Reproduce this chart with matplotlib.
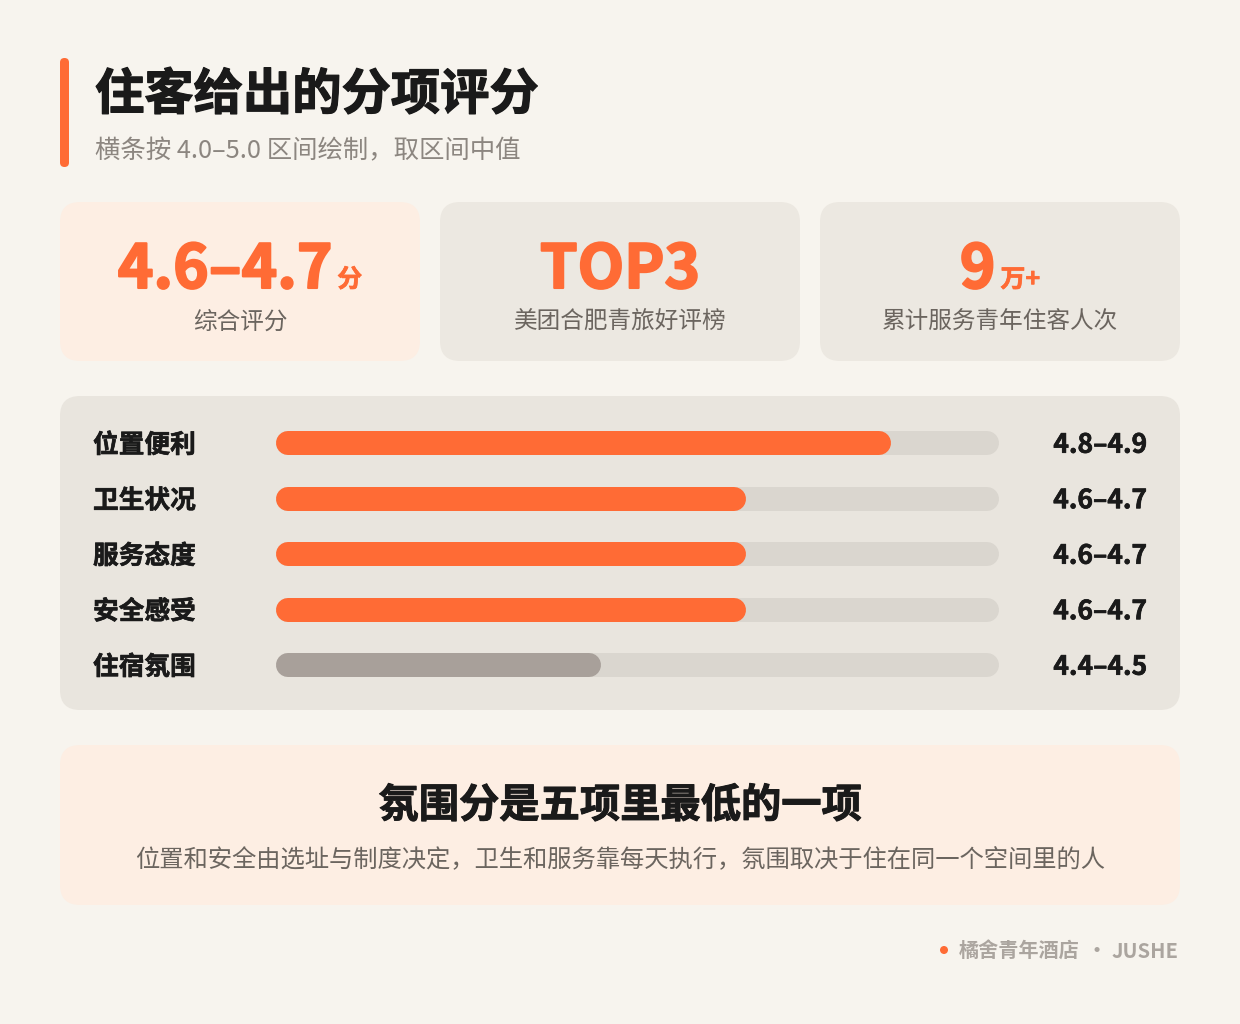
import matplotlib
matplotlib.use('Agg')
import matplotlib.pyplot as plt
import matplotlib.patheffects as pe
from matplotlib.patches import FancyBboxPatch, Circle
from matplotlib.transforms import blended_transform_factory

plt.rcParams['font.family'] = ['Noto Sans CJK SC', 'DejaVu Sans']

# data
categories = ['位置便利', '卫生状况', '服务态度', '安全感受', '住宿氛围']
range_labels = ['4.8–4.9', '4.6–4.7', '4.6–4.7', '4.6–4.7', '4.4–4.5']
midpoints = [4.85, 4.65, 4.65, 4.65, 4.45]
lowest = '住宿氛围'
card_values = ['4.6–4.7', 'TOP3', '9']
card_units = ['分', '', '万+']
card_labels = ['综合评分', '美团合肥青旅好评榜', '累计服务青年住客人次']

ORANGE = '#FF6B35'
PAGE = '#F7F4EE'
PEACH = '#FDEEE3'
CARD = '#ECE8E1'
PANEL = '#E9E5DE'
TRACK = '#DAD6CF'
GRAYBAR = '#A8A09A'
DARK = '#1A1A1A'
MUTED = '#6B655F'


def heavy(color, w):
    # the Black weight is not installed, so thicken Bold with a stroke
    return [pe.withStroke(linewidth=w, foreground=color)]


fig = plt.figure(figsize=(12.4, 10.24), dpi=100)
fig.patch.set_facecolor(PAGE)
bg = fig.add_axes([0, 0, 1, 1])
bg.set_xlim(0, 1240)
bg.set_ylim(1024, 0)
bg.axis('off')


def rbox(x0, y0, x1, y1, color, r=20):
    bg.add_patch(FancyBboxPatch((x0 + r, y0 + r), x1 - x0 - 2 * r, y1 - y0 - 2 * r,
                                boxstyle=f'round,pad={r}', fc=color, ec='none'))


# header
rbox(60, 58, 69, 167, ORANGE, r=4.5)
bg.text(95, 95, '住客给出的分项评分', fontsize=35.5, fontweight='bold', color=DARK,
        va='center', ha='left', path_effects=heavy(DARK, 0.9))
bg.text(95, 151, '横条按 4.0–5.0 区间绘制，取区间中值', fontsize=18.3, color='#8C8680',
        va='center', ha='left')

# stat cards
card_x = [60, 440, 820]
card_bg = [PEACH, CARD, CARD]
r = fig.canvas.get_renderer()
for i in range(3):
    x0 = card_x[i]
    rbox(x0, 202, x0 + 360, 361, card_bg[i])
    cx = x0 + 180
    t1 = bg.text(0, 0, card_values[i], fontsize=43.5, fontweight='bold', color=ORANGE,
                 path_effects=heavy(ORANGE, 1.5))
    t2 = bg.text(0, 0, card_units[i], fontsize=18, fontweight='bold', color=ORANGE,
                 path_effects=heavy(ORANGE, 0.5))
    w1 = t1.get_window_extent(r).width
    w2 = t2.get_window_extent(r).width if card_units[i] else 0
    gap = 5 if card_units[i] else 0
    start = cx - (w1 + gap + w2) / 2
    t1.set_position((start, 288))
    t2.set_position((start + w1 + gap, 287))
    bg.text(cx, 322, card_labels[i], fontsize=17, color=MUTED, ha='center', va='center')

# bar panel
rbox(60, 396, 1180, 710, PANEL)
row_gap = 55.5
top = 443 - row_gap / 2
ax = fig.add_axes([276 / 1240, 1 - (top + 5 * row_gap) / 1024, (999 - 276) / 1240,
                   5 * row_gap / 1024])
ax.set_xlim(4.0, 5.0)
ax.set_ylim(4.5, -0.5)
ax.axis('off')
lw = 24 * 72 / 100
cap = 12 / 723
tr = blended_transform_factory(bg.transData, ax.transData)
for i, (cat, val, lab) in enumerate(zip(categories, midpoints, range_labels)):
    ax.plot([4.0 + cap, 5.0 - cap], [i, i], color=TRACK, lw=lw, solid_capstyle='round')
    col = GRAYBAR if cat == lowest else ORANGE
    ax.plot([4.0 + cap, val - cap], [i, i], color=col, lw=lw, solid_capstyle='round')
    ax.text(93, i + 0.04, cat, transform=tr, fontsize=18.5, fontweight='bold', color=DARK,
            ha='left', va='center', path_effects=heavy(DARK, 0.45))
    ax.text(1147, i + 0.04, lab, transform=tr, fontsize=19, fontweight='bold', color=DARK,
            ha='right', va='center', path_effects=heavy(DARK, 0.5))

# takeaway card
rbox(60, 745, 1180, 905, PEACH)
bg.text(620, 806, '氛围分是五项里最低的一项', fontsize=29, fontweight='bold', color=DARK,
        ha='center', va='center', path_effects=heavy(DARK, 0.7))
bg.text(620, 860, '位置和安全由选址与制度决定，卫生和服务靠每天执行，氛围取决于住在同一个空间里的人',
        fontsize=17.5, color=MUTED, ha='center', va='center')

# footer
FOOT = '#ABA59F'
bg.add_patch(Circle((944, 950), 4, fc=ORANGE, ec='none'))
bg.text(1080, 951, '橘舍青年酒店', fontsize=14.5, fontweight='bold', color=FOOT,
        ha='right', va='center')
bg.text(1097, 950, '·', fontsize=14.5, fontweight='bold', color=FOOT, ha='center', va='center')
bg.text(1179, 951, 'JUSHE', fontsize=14.5, fontweight='bold', color=FOOT,
        ha='right', va='center')

fig.savefig('out.png', dpi=100, facecolor=PAGE)
